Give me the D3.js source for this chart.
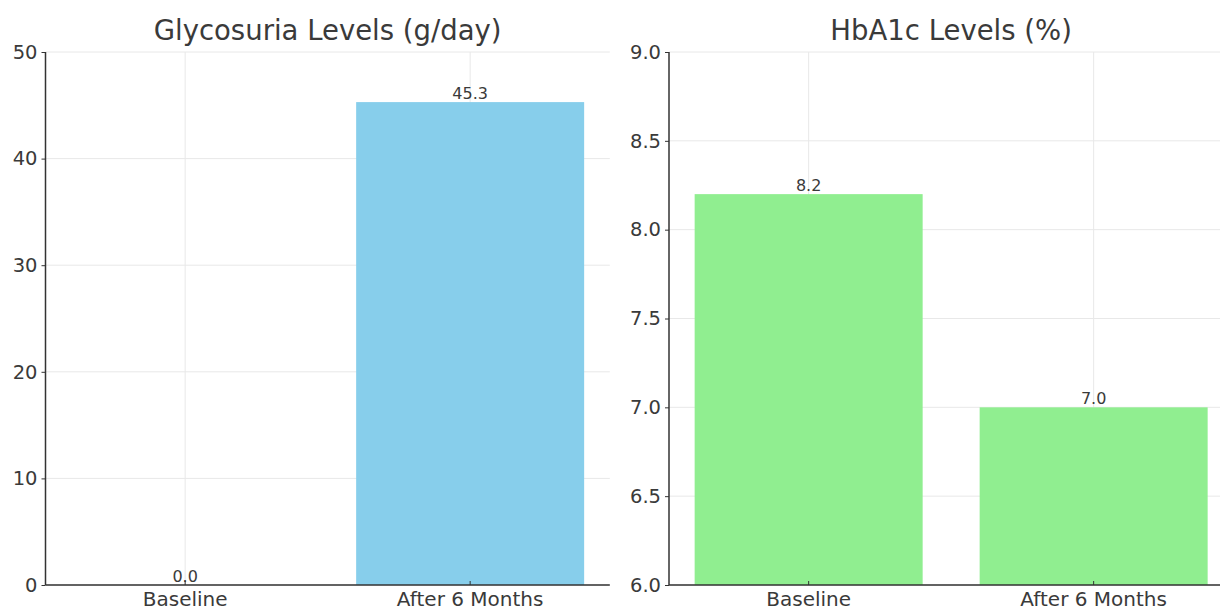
<!DOCTYPE html>
<html>
<head>
<meta charset="utf-8">
<script src="https://cdn.jsdelivr.net/npm/d3@7"></script>
<style>
  html, body { margin: 0; padding: 0; background: #fff; }
  svg { display: block; font-family: "DejaVu Sans", sans-serif; }
</style>
</head>
<body>
<svg id="chart" width="1220" height="610"></svg>
<script>
// ---- data ----
const categories = ["Baseline", "After 6 Months"];
const glycosuriaValues = [0.0, 45.3];
const hba1cValues = [8.2, 7.0];
const glycosuriaTicks = [0, 10, 20, 30, 40, 50];
const hba1cTicks = [6.0, 6.5, 7.0, 7.5, 8.0, 8.5, 9.0];
const titles = ["Glycosuria Levels (g/day)", "HbA1c Levels (%)"];

const svg = d3.select("#chart");
const textColor = "#3a3a3a";
const axisColor = "#333";
const gridColor = "#e8e8e8";

const panels = [
  { title: titles[0], values: glycosuriaValues, domain: [0, 50], ticks: glycosuriaTicks,
    fmt: d3.format("d"), color: "#87CEEB", x0: 45.5, x1: 609.8, id: "p0" },
  { title: titles[1], values: hba1cValues, domain: [6, 9], ticks: hba1cTicks,
    fmt: d3.format(".1f"), color: "#90EE90", x0: 669, x1: 1233.3, id: "p1" }
];

const yTop = 52, yBottom = 585;
const defs = svg.append("defs");

panels.forEach(p => {
  const x = d3.scaleBand().domain(categories).range([p.x0, p.x1])
    .paddingInner(0.2).paddingOuter(0.09);
  const y = d3.scaleLinear().domain(p.domain).range([yBottom, yTop]);
  const g = svg.append("g");

  defs.append("clipPath").attr("id", "clip-" + p.id)
    .append("rect").attr("x", p.x0).attr("y", yTop)
    .attr("width", p.x1 - p.x0).attr("height", yBottom - yTop);

  // grid
  g.append("g").selectAll("line").data(p.ticks).join("line")
    .attr("x1", p.x0).attr("x2", p.x1)
    .attr("y1", d => y(d)).attr("y2", d => y(d))
    .attr("stroke", gridColor).attr("stroke-width", 1);
  g.append("g").selectAll("line").data(categories).join("line")
    .attr("x1", d => x(d) + x.bandwidth() / 2).attr("x2", d => x(d) + x.bandwidth() / 2)
    .attr("y1", yTop).attr("y2", yBottom)
    .attr("stroke", gridColor).attr("stroke-width", 1);

  // bars (from zero, clipped to the axes)
  g.append("g").attr("clip-path", "url(#clip-" + p.id + ")")
    .selectAll("rect").data(p.values).join("rect")
    .attr("x", (d, i) => x(categories[i]))
    .attr("width", x.bandwidth())
    .attr("y", d => y(d))
    .attr("height", d => y(0) - y(d))
    .attr("fill", p.color);

  // value labels
  g.append("g").selectAll("text").data(p.values).join("text")
    .attr("x", (d, i) => x(categories[i]) + x.bandwidth() / 2)
    .attr("y", d => y(d) - 3)
    .attr("text-anchor", "middle")
    .attr("font-size", 16)
    .attr("fill", textColor)
    .text(d => d3.format(".1f")(d));

  // y axis
  const yAxis = d3.axisLeft(y).tickValues(p.ticks).tickFormat(p.fmt)
    .tickSize(4).tickPadding(4);
  const ya = g.append("g").attr("transform", `translate(${p.x0},0)`).call(yAxis);
  ya.select(".domain").attr("stroke", axisColor).attr("stroke-width", 1.5)
    .attr("d", `M0,${yTop}V${yBottom}`);
  ya.selectAll(".tick line").attr("stroke", axisColor).attr("stroke-width", 1);
  ya.selectAll(".tick text").attr("font-size", 19.5).attr("fill", textColor)
    .attr("font-family", "DejaVu Sans");

  // x axis
  const xAxis = d3.axisBottom(x).tickSize(-4).tickPadding(7);
  const xa = g.append("g").attr("transform", `translate(0,${yBottom})`).call(xAxis);
  xa.select(".domain").attr("stroke", axisColor).attr("stroke-width", 1.5)
    .attr("d", `M${p.x0},0H${p.x1}`);
  xa.selectAll(".tick line").attr("stroke", axisColor).attr("stroke-width", 1);
  xa.selectAll(".tick text").attr("font-size", 20).attr("fill", textColor)
    .attr("font-family", "DejaVu Sans").attr("dy", "0.71em");

  // title
  g.append("text")
    .attr("x", (p.x0 + p.x1) / 2).attr("y", 40)
    .attr("text-anchor", "middle")
    .attr("font-size", 27.5)
    .attr("fill", textColor)
    .text(p.title);
});
</script>
</body>
</html>
